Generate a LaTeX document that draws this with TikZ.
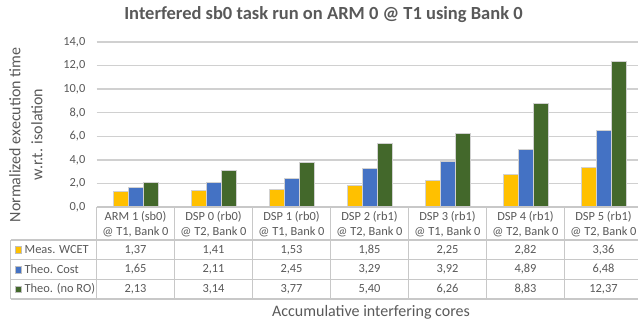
\documentclass[tikz,border=0pt]{standalone}
\usepackage{fontspec}
\setmainfont{Carlito}
\definecolor{txt}{HTML}{595959}
\definecolor{cmeas}{HTML}{FFC000}
\definecolor{ccost}{HTML}{4472C4}
\definecolor{cnoro}{HTML}{43682B}
\definecolor{gridc}{HTML}{D0D0D0}
\definecolor{tabc}{HTML}{C8C8C8}
\begin{document}
\begin{tikzpicture}[x=1pt,y=-1pt,
  every node/.style={text=txt, font=\fontsize{12.4}{15}\selectfont, inner sep=0pt},
  gridline/.style={draw=gridc, line width=1.3pt},
  tabline/.style={draw=tabc, line width=1.2pt},
  barbox/.style={draw=black!18, line width=0.5pt},
  keybox/.style={draw=black!25, line width=0.3pt},
  axtitle/.style={font=\fontsize{16}{19}\selectfont},
  charttitle/.style={font=\fontsize{18.5}{22}\selectfont\bfseries}]
\useasboundingbox (0,0) rectangle (638,325);
\begin{scope}
\clip (0,0) rectangle (638,325);
% gridlines and tick labels
\foreach \v in {0,2,...,14}{
  \pgfmathsetmacro\yy{207-\v*11.7857}
  \ifnum\v>0 \draw[gridline] (96.5,\yy) -- (642.5,\yy); \fi
  \node[anchor=east] (tick\v) at (85.5,\yy) {\v,0};
}
% bars and table values
\foreach \m/\c/\n/\ms/\cs/\ns/\la/\lb [count=\i] in {
  1.37/1.65/2.13/{1,37}/{1,65}/{2,13}/ARM 1 (sb0)/{@ T1, Bank 0},
  1.41/2.11/3.14/{1,41}/{2,11}/{3,14}/DSP 0 (rb0)/{@ T2, Bank 0},
  1.53/2.45/3.77/{1,53}/{2,45}/{3,77}/DSP 1 (rb0)/{@ T1, Bank 0},
  1.85/3.29/5.40/{1,85}/{3,29}/{5,40}/DSP 2 (rb1)/{@ T2, Bank 0},
  2.25/3.92/6.26/{2,25}/{3,92}/{6,26}/DSP 3 (rb1)/{@ T1, Bank 0},
  2.82/4.89/8.83/{2,82}/{4,89}/{8,83}/DSP 4 (rb1)/{@ T2, Bank 0},
  3.36/6.48/12.37/{3,36}/{6,48}/{12,37}/DSP 5 (rb1)/{@ T2, Bank 0}}{
  \pgfmathsetmacro\cx{96.5+(\i-0.5)*78}
  \filldraw[fill=cmeas,barbox] (\cx-22.5,207) rectangle (\cx-7.5,{207-\m*11.7857});
  \filldraw[fill=ccost,barbox] (\cx-7.5,207) rectangle (\cx+7.5,{207-\c*11.7857});
  \filldraw[fill=cnoro,barbox] (\cx+7.5,207) rectangle (\cx+22.5,{207-\n*11.7857});
  \node (cat\i) at (\cx,216.5) {\la};
  \node (sub\i) at (\cx,231.5) {\lb};
  \node (vm\i) at (\cx,249.8) {\ms};
  \node (vc\i) at (\cx,269.5) {\cs};
  \node (vn\i) at (\cx,289.2) {\ns};
}
% table lines
\draw[tabline] (96.5,207) -- (642.5,207);
\foreach \yy in {240,259.7,279.3,299}{ \draw[tabline] (10.5,\yy) -- (642.5,\yy); }
\foreach \k in {0,...,7}{ \draw[tabline] ({96.5+\k*78},207) -- ({96.5+\k*78},299); }
\draw[tabline] (10.5,240) -- (10.5,299);
\end{scope}
% legend
\filldraw[fill=cmeas,keybox] (15,246.6) rectangle (21.5,253.1);
\filldraw[fill=ccost,keybox] (15,266.3) rectangle (21.5,272.8);
\filldraw[fill=cnoro,keybox] (15,285.9) rectangle (21.5,292.4);
\node[anchor=west] (lm) at (24.5,249.8) {Meas. WCET};
\node[anchor=west] (lc) at (24.5,269.5) {Theo. Cost};
\node[anchor=west] (ln) at (24.5,289.2) {Theo. (no RO)};
% titles
\node[charttitle] (title) at (323.5,15) {Interfered sb0 task run on ARM 0 @ T1 using Bank 0};
\node[axtitle,rotate=90] (yt1) at (15,135) {Normalized execution time};
\node[axtitle,rotate=90] (yt2) at (37,134.5) {w.r.t. isolation};
\node[axtitle] (xt) at (371,312) {Accumulative interfering cores};
\end{tikzpicture}
\end{document}
